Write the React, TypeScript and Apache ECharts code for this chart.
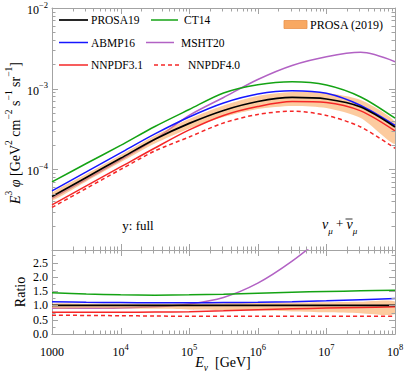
import { useEffect, useRef } from "react";
import * as echarts from "echarts";

// ---------- data ----------
const energies = [1000, 3162, 10000, 31623, 100000, 316228, 1000000, 3162278, 10000000, 31622777, 100000000];

// E^3 phi  [GeV^2 cm^-2 s^-1 sr^-1]
const fluxPROSA19 = [4.61e-5, 7.94e-5, 1.37e-4, 2.36e-4, 3.71e-4, 5.37e-4, 6.93e-4, 7.78e-4, 7.45e-4, 5.93e-4, 3.35e-4];
const fluxCT14 = [6.98e-5, 1.18e-4, 1.98e-4, 3.4e-4, 5.52e-4, 8.85e-4, 1.12e-3, 1.22e-3, 1.11e-3, 7.89e-4, 4.3e-4];
const fluxABMP16 = [5.4e-5, 9.29e-5, 1.6e-4, 2.75e-4, 4.46e-4, 6.65e-4, 8.59e-4, 9.44e-4, 8.77e-4, 6.19e-4, 3.5e-4];
const fluxMSHT20 = [4.36e-5, 7.5e-5, 1.31e-4, 2.35e-4, 4.66e-4, 7.78e-4, 1.3e-3, 1.94e-3, 2.49e-3, 2.82e-3, 2.16e-3];
const fluxNNPDF31 = [3.62e-5, 6.22e-5, 1.07e-4, 1.84e-4, 3.08e-4, 4.66e-4, 6.01e-4, 6.93e-4, 6.75e-4, 5.3e-4, 2.99e-4];
const fluxNNPDF40 = [3.37e-5, 5.8e-5, 9.97e-5, 1.69e-4, 2.52e-4, 3.76e-4, 4.79e-4, 5.26e-4, 4.66e-4, 3.35e-4, 1.82e-4];
const fluxBandUpper = [5.1e-5, 8.77e-5, 1.51e-4, 2.63e-4, 4.22e-4, 6.19e-4, 8.12e-4, 9.1e-4, 8.85e-4, 7.24e-4, 3.87e-4];
const fluxBandLower = [4.12e-5, 7.08e-5, 1.22e-4, 2.09e-4, 3.21e-4, 4.46e-4, 5.6e-4, 6.11e-4, 5.77e-4, 4.34e-4, 2.06e-4];

// ratio to PROSA19
const ratioPROSA19 = [1, 1, 1, 1, 1, 1, 1, 1, 1, 1, 1];
const ratioCT14 = [1.44, 1.4, 1.37, 1.36, 1.37, 1.39, 1.43, 1.46, 1.49, 1.51, 1.53];
const ratioABMP16 = [1.13, 1.11, 1.1, 1.09, 1.09, 1.1, 1.11, 1.13, 1.16, 1.2, 1.24];
const ratioMSHT20 = [0.9, 0.9, 0.91, 0.95, 1.05, 1.28, 1.78, 2.55, 3.5];
const ratioNNPDF31 = [0.76, 0.76, 0.76, 0.77, 0.78, 0.81, 0.85, 0.88, 0.91, 0.93, 0.95];
const ratioNNPDF40 = [0.66, 0.65, 0.64, 0.63, 0.62, 0.62, 0.62, 0.62, 0.62, 0.62, 0.62];
const ratioBandUpper = [1.06, 1.06, 1.06, 1.06, 1.07, 1.08, 1.09, 1.1, 1.11, 1.13, 1.14];
const ratioBandLower = [0.9, 0.9, 0.89, 0.88, 0.86, 0.84, 0.82, 0.79, 0.76, 0.73, 0.69];

const xTickLabels = ["1000", "10^4", "10^5", "10^6", "10^7", "10^8"];
const yTickLabels = ["10^−5", "10^−4", "10^−3", "10^−2"];
const ratioTickLabels = ["0.0", "0.5", "1.0", "1.5", "2.0", "2.5"];

// ---------- styling ----------
const SERIF = "'Liberation Serif', 'Times New Roman', serif";
const FRAME = "#a3a3a3";
const C_BLACK = "#000000";
const C_BLUE = "#1616ff";
const C_GREEN = "#14a314";
const C_PURPLE = "#b262c4";
const C_RED = "#f52727";
const BAND = "rgba(250,160,80,0.55)";

const toRich = (s: string) => {
  const [b, e] = s.split("^");
  return e === undefined ? `{b|${b}}` : `{b|${b}}{s|${e}}`;
};

const richLbl = {
  b: { fontSize: 12, fontFamily: SERIF, color: "#000", padding: [4, 0, 0, 0], verticalAlign: "bottom" },
  s: { fontSize: 8.5, fontFamily: SERIF, color: "#000", verticalAlign: "top" },
};

const LX = energies.map((e) => Math.log10(e));
const logPairs = (arr: number[]) => arr.map((v, i) => [LX[i], Math.log10(v)]);
const linPairs = (arr: number[]) => arr.map((v, i) => [LX[i], v]);

function lineSeries(xi: number, yi: number, data: number[][], color: string, width = 1.5, dashed = false, z = 3) {
  return {
    type: "line",
    xAxisIndex: xi,
    yAxisIndex: yi,
    data,
    showSymbol: false,
    symbol: "none",
    smooth: 0.3,
    lineStyle: { color, width, type: dashed ? [4, 3] : "solid" },
    z,
    silent: true,
  };
}

function bandSeries(xi: number, yi: number, lower: number[], upper: number[], z = 2) {
  const data = LX.map((x, i) => [x, lower[i], upper[i]]);
  return {
    type: "custom",
    xAxisIndex: xi,
    yAxisIndex: yi,
    silent: true,
    clip: true,
    z,
    data,
    encode: { x: 0, y: [1, 2] },
    renderItem: (params: any, api: any) => {
      if (params.dataIndex !== 0) return null;
      const top = data.map((d) => api.coord([d[0], d[2]]));
      const bot = data.map((d) => api.coord([d[0], d[1]])).reverse();
      return {
        type: "polygon",
        shape: { points: [...top, ...bot], smooth: 0.25 },
        style: { fill: BAND, stroke: "none" },
      };
    },
  };
}

type Tick = { v: number; major: boolean };

function tickSeries(xi: number, yi: number, xMin: number, yMin: number, xTicks: Tick[], yTicks: Tick[]) {
  const data = [
    ...xTicks.map((t) => [t.v, yMin, t.major ? 0 : 1]),
    ...yTicks.map((t) => [xMin, t.v, t.major ? 2 : 3]),
  ];
  return {
    type: "custom",
    xAxisIndex: xi,
    yAxisIndex: yi,
    silent: true,
    z: 5,
    clip: false,
    data,
    encode: { x: 0, y: 1 },
    renderItem: (params: any, api: any) => {
      const cs = params.coordSys;
      const kind = api.value(2);
      const p = api.coord([api.value(0), api.value(1)]);
      const len = kind === 0 || kind === 2 ? 6 : 3.5;
      const style = { stroke: FRAME, lineWidth: 1 };
      if (kind <= 1) {
        const x = Math.round(p[0]) + 0.5;
        const yt = cs.y;
        const yb = cs.y + cs.height;
        return {
          type: "group",
          children: [
            { type: "line", shape: { x1: x, y1: yb, x2: x, y2: yb - len }, style },
            { type: "line", shape: { x1: x, y1: yt, x2: x, y2: yt + len }, style },
          ],
        };
      }
      const y = Math.round(p[1]) + 0.5;
      const xl = cs.x;
      const xr = cs.x + cs.width;
      return {
        type: "group",
        children: [
          { type: "line", shape: { x1: xl, y1: y, x2: xl + len, y2: y }, style },
          { type: "line", shape: { x1: xr, y1: y, x2: xr - len, y2: y }, style },
        ],
      };
    },
  };
}

function buildOption() {
  const xTicks: Tick[] = [];
  for (let n = 3; n <= 8; n++) {
    xTicks.push({ v: n, major: true });
    if (n < 8) for (let k = 2; k <= 9; k++) xTicks.push({ v: n + Math.log10(k), major: false });
  }
  const yTicksTop: Tick[] = [];
  for (let n = -5; n <= -2; n++) {
    yTicksTop.push({ v: n, major: true });
    if (n < -2) for (let k = 2; k <= 9; k++) yTicksTop.push({ v: n + Math.log10(k), major: false });
  }
  const yTicksRatio: Tick[] = [];
  for (let i = 0; i <= 11; i++) yTicksRatio.push({ v: i * 0.25, major: i % 2 === 0 });

  const axisLine = { show: true, lineStyle: { color: FRAME, width: 1 } };
  const baseX = (grid: number, pos: string, labels: boolean) => ({
    type: "value",
    gridIndex: grid,
    position: pos,
    min: 3,
    max: 8,
    interval: 1,
    axisLine,
    axisTick: { show: false },
    splitLine: { show: false },
    axisLabel: labels
      ? {
          show: true,
          margin: 8,
          formatter: (v: number) => toRich(xTickLabels[Math.round(v) - 3]),
          rich: richLbl,
        }
      : { show: false },
  });

  const mshtRatioPairs = ratioMSHT20.map((v, i) => [LX[i], v]);
  const txt = (x: number, y: number, text: string, fontSize = 11.5) => ({
    type: "text",
    x,
    y,
    style: { text, fontSize, fontFamily: SERIF, fill: "#000", align: "left", verticalAlign: "middle" },
  });
  const seg = (x1: number, x2: number, y: number, stroke: string, lineWidth = 1.5, dash?: number[]) => ({
    type: "line",
    shape: { x1, y1: y, x2, y2: y },
    style: dash ? { stroke, lineWidth, lineDash: dash } : { stroke, lineWidth },
  });

  return {
    animation: false,
    backgroundColor: "#ffffff",
    grid: [
      { left: 52, top: 8, width: 343, height: 242, outerBoundsMode: "none", containLabel: false },
      { left: 52, top: 250, width: 343, height: 84, outerBoundsMode: "none", containLabel: false },
    ],
    xAxis: [baseX(0, "bottom", false), baseX(0, "top", false), baseX(1, "bottom", true), baseX(1, "top", false)],
    yAxis: [
      {
        type: "value",
        gridIndex: 0,
        position: "left",
        min: -5,
        max: -2,
        interval: 1,
        axisLine,
        axisTick: { show: false },
        splitLine: { show: false },
        axisLabel: {
          show: true,
          margin: 4,
          showMinLabel: false,
          formatter: (v: number) => toRich(yTickLabels[Math.round(v) + 5]),
          rich: richLbl,
        },
      },
      {
        type: "value",
        gridIndex: 0,
        position: "right",
        min: -5,
        max: -2,
        interval: 1,
        axisLine,
        axisTick: { show: false },
        splitLine: { show: false },
        axisLabel: { show: false },
      },
      {
        type: "value",
        gridIndex: 1,
        position: "left",
        min: 0,
        max: 2.94,
        interval: 0.5,
        axisLine,
        axisTick: { show: false },
        splitLine: { show: false },
        axisLabel: {
          show: true,
          margin: 4,
          showMaxLabel: false,
          fontSize: 12,
          fontFamily: SERIF,
          color: "#000",
          formatter: (v: number) => ratioTickLabels[Math.round(v * 2)] ?? "",
        },
      },
      {
        type: "value",
        gridIndex: 1,
        position: "right",
        min: 0,
        max: 2.94,
        interval: 0.5,
        axisLine,
        axisTick: { show: false },
        splitLine: { show: false },
        axisLabel: { show: false },
      },
    ],
    series: [
      // top panel
      lineSeries(0, 0, logPairs(fluxMSHT20), C_PURPLE, 1.5, false, 1),
      bandSeries(0, 0, fluxBandLower.map(Math.log10), fluxBandUpper.map(Math.log10)),
      lineSeries(0, 0, logPairs(fluxCT14), C_GREEN),
      lineSeries(0, 0, logPairs(fluxABMP16), C_BLUE),
      lineSeries(0, 0, logPairs(fluxNNPDF31), C_RED),
      lineSeries(0, 0, logPairs(fluxNNPDF40), C_RED, 1.5, true),
      lineSeries(0, 0, logPairs(fluxPROSA19), C_BLACK, 1.7),
      // ratio panel
      lineSeries(2, 2, mshtRatioPairs, C_PURPLE, 1.5, false, 1),
      bandSeries(2, 2, ratioBandLower, ratioBandUpper),
      lineSeries(2, 2, linPairs(ratioCT14), C_GREEN),
      lineSeries(2, 2, linPairs(ratioABMP16), C_BLUE),
      lineSeries(2, 2, linPairs(ratioNNPDF31), C_RED),
      lineSeries(2, 2, linPairs(ratioNNPDF40), C_RED, 1.5, true),
      lineSeries(2, 2, linPairs(ratioPROSA19), C_BLACK, 1.7),
      // frame ticks
      tickSeries(0, 0, 3, -5, xTicks, yTicksTop),
      tickSeries(2, 2, 3, 0, xTicks, yTicksRatio),
    ],
    graphic: {
      elements: [
        // legend, column 1
        seg(59, 88, 20, C_BLACK, 1.7),
        txt(91, 20, "PROSA19"),
        seg(59, 88, 42.5, C_BLUE),
        txt(91, 42.5, "ABMP16"),
        seg(59, 88, 65, C_RED),
        txt(91, 65, "NNPDF3.1"),
        // legend, column 2
        seg(151, 178, 20, C_GREEN),
        txt(184, 20, "CT14"),
        seg(146, 174, 42.5, C_PURPLE),
        txt(181, 42.5, "MSHT20"),
        seg(154, 180, 65, C_RED, 1.5, [4, 3]),
        txt(188, 65, "NNPDF4.0"),
        // band legend
        { type: "rect", shape: { x: 284, y: 20.5, width: 23, height: 8 }, style: { fill: "#f8a862", stroke: "#e8924c", lineWidth: 0.8 } },
        txt(310, 25, "PROSA (2019)", 12),
        // annotations
        { type: "text", x: 138, y: 225, style: { text: "y: full", fontSize: 13, fontFamily: SERIF, fill: "#000", align: "center", verticalAlign: "middle" } },
        {
          type: "text",
          x: 322,
          y: 226,
          style: {
            text: "{i|ν}{d|μ}{r| + }{i|ν}{d|μ}",
            fontSize: 13,
            fontFamily: SERIF,
            fill: "#000",
            align: "left",
            verticalAlign: "middle",
            rich: {
              i: { fontSize: 14, fontFamily: SERIF, fontStyle: "italic", padding: [0, 0, 4, 0], verticalAlign: "top" },
              r: { fontSize: 13, fontFamily: SERIF, padding: [0, 0, 4, 0], verticalAlign: "top" },
              d: { fontSize: 9, fontFamily: SERIF, fontStyle: "italic", verticalAlign: "bottom" },
            },
          },
        },
        { type: "line", shape: { x1: 345.5, y1: 219, x2: 352.5, y2: 219 }, style: { stroke: "#000", lineWidth: 0.8 } },
        // axis titles
        {
          type: "text",
          x: 13,
          y: 133,
          rotation: Math.PI / 2,
          style: {
            text: "{i|E}{s|3}{i| φ}{r| [GeV}{s|2}{r| cm}{s|−2}{r| s}{s|−1}{r| sr}{s|−1}{r|]}",
            fontSize: 14,
            fontFamily: SERIF,
            fill: "#000",
            align: "center",
            verticalAlign: "middle",
            rich: {
              i: { fontSize: 14, fontFamily: SERIF, fontStyle: "italic", padding: [4, 0, 0, 0], verticalAlign: "bottom" },
              r: { fontSize: 14, fontFamily: SERIF, padding: [4, 0, 0, 0], verticalAlign: "bottom" },
              s: { fontSize: 9.5, fontFamily: SERIF, verticalAlign: "top" },
            },
          },
        },
        {
          type: "text",
          x: 20,
          y: 292,
          rotation: Math.PI / 2,
          style: { text: "Ratio", fontSize: 14, fontFamily: SERIF, fill: "#000", align: "center", verticalAlign: "middle" },
        },
        {
          type: "text",
          x: 223,
          y: 364,
          style: {
            text: "{i|E}{d|ν}{r|  [GeV]}",
            fontSize: 14,
            fontFamily: SERIF,
            fill: "#000",
            align: "center",
            verticalAlign: "middle",
            rich: {
              i: { fontSize: 14, fontFamily: SERIF, fontStyle: "italic", padding: [0, 0, 4, 0], verticalAlign: "top" },
              r: { fontSize: 14, fontFamily: SERIF, padding: [0, 0, 4, 0], verticalAlign: "top" },
              d: { fontSize: 9.5, fontFamily: SERIF, fontStyle: "italic", verticalAlign: "bottom" },
            },
          },
        },
      ],
    },
  };
}

export default function App() {
  const ref = useRef<HTMLDivElement>(null);
  useEffect(() => {
    if (!ref.current) return;
    const chart = echarts.init(ref.current, undefined, { renderer: "svg" });
    chart.setOption(buildOption() as any);
    return () => chart.dispose();
  }, []);
  return (
    <div
      ref={ref}
      style={{ position: "absolute", left: 0, top: 0, width: 407, height: 374, background: "#fff" }}
    />
  );
}
